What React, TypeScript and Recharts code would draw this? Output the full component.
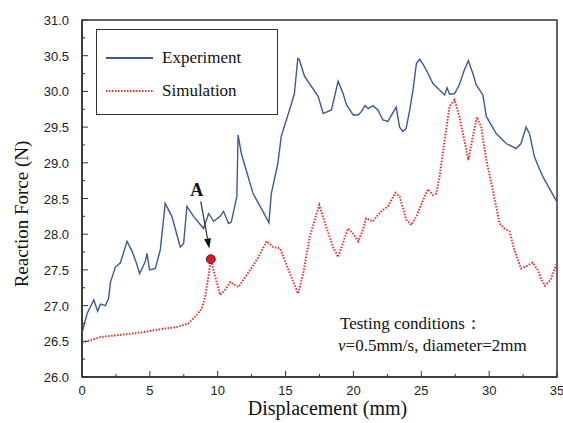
import React from "react";
import {
  LineChart, Line, XAxis, YAxis, Legend, ReferenceArea, ReferenceDot, ReferenceLine,
} from "recharts";

// Experiment curve (displacement mm, force N)
const EXP_X = [
  0, 0.38, 0.87, 1.15, 1.36, 1.72, 1.96, 2.1, 2.46, 2.83, 3.32, 3.69, 3.93, 4.25, 4.67, 4.79, 4.98, 5.4,
  5.77, 6.13, 6.62, 7.24, 7.49, 7.73, 8.22, 8.96, 9.33, 9.7, 10.18, 10.43, 10.8, 11.0, 11.41, 11.5, 11.74,
  12.6, 13.33, 13.77, 13.95, 14.43, 14.68, 15.29, 15.65, 15.9, 16.0, 16.4, 17.4, 17.77, 18.38, 18.87,
  19.24, 19.49, 19.98, 20.35, 20.6, 20.85, 21.1, 21.44, 21.8, 22.17, 22.54, 23.15, 23.4, 23.64, 23.88,
  24.15, 24.39, 24.64, 24.88, 25.1, 25.37, 25.86, 26.35, 26.72, 26.9, 27.08, 27.45, 27.8, 28.17, 28.47,
  28.8, 29.05, 29.54, 29.79, 30.52, 31.26, 31.99, 32.35, 32.72, 32.97, 33.33, 33.58, 33.95, 35,
];
const EXP_Y = [
  26.62, 26.89, 27.08, 26.92, 27.02, 27.0, 27.1, 27.33, 27.54, 27.6, 27.9, 27.76, 27.64, 27.45, 27.62, 27.73, 27.5, 27.52,
  27.78, 28.43, 28.25, 27.82, 27.87, 28.39, 28.25, 28.08, 28.29, 28.18, 28.25, 28.32, 28.15, 28.17, 28.53, 29.39, 29.13,
  28.57, 28.32, 28.16, 28.57, 28.99, 29.37, 29.74, 29.97, 30.46, 30.45, 30.21, 29.93, 29.69, 29.74, 30.14,
  29.97, 29.81, 29.67, 29.67, 29.72, 29.8, 29.76, 29.8, 29.74, 29.6, 29.58, 29.78, 29.5, 29.44, 29.48,
  29.74, 30.02, 30.39, 30.45, 30.39, 30.3, 30.11, 30.02, 29.95, 30.05, 29.96, 29.97, 30.09, 30.3, 30.43,
  30.25, 30.09, 29.95, 29.65, 29.41, 29.27, 29.2, 29.27, 29.5, 29.41, 29.09, 28.97, 28.81, 28.45,
];

// Simulation curve
const SIM_X = [
  0, 1.36, 3.32, 4.55, 5.77, 7.0, 7.84, 8.46, 8.83, 9.07, 9.31, 9.49, 9.82, 10.18, 10.55, 10.92, 11.53,
  12.39, 12.88, 13.6, 14.1, 14.6, 15.32, 15.93, 16.3, 16.79, 17.48, 18.0, 18.5, 18.87, 19.24, 19.6, 19.97,
  20.35, 20.7, 20.94, 21.43, 21.8, 22.17, 22.54, 23.1, 23.4, 23.9, 24.27, 24.64, 25.13, 25.5, 25.86, 26.1,
  26.35, 26.72, 27.08, 27.45, 27.8, 28.17, 28.47, 28.8, 29.1, 29.42, 29.79, 30.27, 30.77, 31.13, 31.5,
  31.86, 32.35, 32.72, 33.21, 33.58, 33.82, 34.1, 34.5, 35,
];
const SIM_Y = [
  26.48, 26.56, 26.6, 26.63, 26.67, 26.7, 26.75, 26.87, 26.96, 27.12, 27.4, 27.65, 27.4, 27.15, 27.22, 27.33, 27.26,
  27.5, 27.64, 27.9, 27.82, 27.8, 27.45, 27.17, 27.45, 27.97, 28.41, 28.1, 27.82, 27.68, 27.88, 28.08, 28.01,
  27.9, 28.06, 28.22, 28.18, 28.27, 28.34, 28.39, 28.58, 28.53, 28.2, 28.13, 28.25, 28.48, 28.63, 28.55, 28.57,
  28.81, 29.32, 29.79, 29.88, 29.65, 29.32, 29.04, 29.37, 29.64, 29.5, 29.04, 28.62, 28.15, 28.08, 28.04,
  27.78, 27.52, 27.55, 27.6, 27.5, 27.38, 27.28, 27.35, 27.6,
];

const X_TICKS = [0, 2.5, 5, 7.5, 10, 12.5, 15, 17.5, 20, 22.5, 25, 27.5, 30, 32.5, 35];
const Y_TICKS = [
  26, 26.25, 26.5, 26.75, 27, 27.25, 27.5, 27.75, 28, 28.25, 28.5, 28.75,
  29, 29.25, 29.5, 29.75, 30, 30.25, 30.5, 30.75, 31,
];

// point A and its arrow
const POINT_A = { x: 9.49, y: 27.65 };
const ARROW = [{ x: 8.75, y: 28.46 }, { x: 9.38, y: 27.8 }];
const LABEL_A = { x: 8.45, y: 28.63 };

const expData = EXP_X.map((x, i) => ({ x, y: EXP_Y[i] }));
const simData = SIM_X.map((x, i) => ({ x, y: SIM_Y[i] }));

const SERIF = "'Liberation Serif', 'Times New Roman', serif";
const SANS = "'Liberation Sans', Arial, sans-serif";
const BLUE = "#3b5b98";
const RED = "#e8322c";

function XTick({ x, y, payload }: any) {
  const major = payload.value % 5 === 0;
  return (
    <g>
      <line x1={x} x2={x} y1={y} y2={y - (major ? 6 : 3)} stroke="#333" strokeWidth={1} />
      {major && (
        <text x={x} y={y + 18} textAnchor="middle" fontSize={13} fontFamily={SANS} fill="#222">
          {payload.value}
        </text>
      )}
    </g>
  );
}

function YTick({ x, y, payload }: any) {
  const v = payload.value;
  const major = Math.abs(v * 2 - Math.round(v * 2)) < 1e-6;
  return (
    <g>
      <line x1={x} x2={x + (major ? 6 : 3)} y1={y} y2={y} stroke="#333" strokeWidth={1} />
      {major && (
        <text x={x - 13} y={y + 5} textAnchor="end" fontSize={13} fontFamily={SANS} fill="#222">
          {v.toFixed(1)}
        </text>
      )}
    </g>
  );
}

function Arrow(props: any) {
  const { x1, y1, x2, y2 } = props;
  const dx = x2 - x1, dy = y2 - y1;
  const len = Math.sqrt(dx * dx + dy * dy);
  const ux = dx / len, uy = dy / len;
  const hl = 10, hw = 3.5;
  const bx = x2 - ux * hl, by = y2 - uy * hl;
  return (
    <g>
      <line x1={x1} y1={y1} x2={bx} y2={by} stroke="#333" strokeWidth={1.2} />
      <polygon
        points={`${x2},${y2} ${bx - uy * hw},${by + ux * hw} ${bx + uy * hw},${by - ux * hw}`}
        fill="#111"
      />
    </g>
  );
}

function LegendBox() {
  const row = { display: "flex", alignItems: "center", height: 33 } as const;
  return (
    <div
      style={{
        border: "1.5px solid #333", width: 182, height: 86, boxSizing: "border-box",
        padding: "11px 0 0 9px", fontFamily: SERIF, fontSize: 17, color: "#111", background: "#fff",
      }}
    >
      <div style={row}>
        <svg width={47} height={4} style={{ marginRight: 9 }}>
          <line x1={0} x2={47} y1={2} y2={2} stroke={BLUE} strokeWidth={2} />
        </svg>
        Experiment
      </div>
      <div style={row}>
        <svg width={47} height={4} style={{ marginRight: 9 }}>
          <line x1={0} x2={47} y1={2} y2={2} stroke={RED} strokeWidth={2} strokeDasharray="1.5 1.5" />
        </svg>
        Simulation
      </div>
    </div>
  );
}

export default function App() {
  return (
    <div style={{ position: "absolute", left: 0, top: 0, width: 563, height: 423, background: "#fff" }}>
      <LineChart width={563} height={423} margin={{ top: 20, right: 6, bottom: 0, left: 0 }}>
        <XAxis
          dataKey="x"
          type="number"
          domain={[0, 35]}
          ticks={X_TICKS}
          interval={0}
          tickSize={0}
          tickMargin={0}
          tick={<XTick />}
          height={46}
          axisLine={{ stroke: "#333", strokeWidth: 1.5 }}
          allowDuplicatedCategory={false}
        />
        <YAxis
          dataKey="y"
          type="number"
          domain={[26, 31]}
          ticks={Y_TICKS}
          interval={0}
          tickSize={0}
          tickMargin={0}
          tick={<YTick />}
          width={82}
          axisLine={{ stroke: "#333", strokeWidth: 1.5 }}
        />
        <ReferenceArea x1={0} x2={35} y1={26} y2={31} fill="none" stroke="#333" strokeWidth={1.5} />
        <Legend
          layout="horizontal"
          verticalAlign="middle"
          align="center"
          content={<LegendBox />}
          wrapperStyle={{ left: 96, top: 29, width: 182, height: 86 }}
        />
        <Line
          data={expData}
          dataKey="y"
          name="Experiment"
          type="linear"
          stroke={BLUE}
          strokeWidth={1.4}
          dot={false}
          isAnimationActive={false}
        />
        <Line
          data={simData}
          dataKey="y"
          name="Simulation"
          type="linear"
          stroke={RED}
          strokeWidth={2}
          strokeDasharray="1.5 1.5"
          dot={false}
          isAnimationActive={false}
        />
        <ReferenceLine segment={ARROW} shape={<Arrow />} />
        <ReferenceDot x={POINT_A.x} y={POINT_A.y} r={4.5} fill="#ee1111" stroke="#3a2a6a" strokeWidth={1} />
        <ReferenceDot
          x={LABEL_A.x}
          y={LABEL_A.y}
          r={0}
          label={{ value: "A", position: "center", fontFamily: SERIF, fontSize: 18, fontWeight: "bold", fill: "#111" }}
        />
      </LineChart>
      <div
        style={{
          position: "absolute", left: 82, top: 20, width: 475, height: 357,
          pointerEvents: "none", fontFamily: SERIF, fontSize: 17, color: "#111",
        }}
      >
        <div style={{ position: "absolute", left: 258, top: 292, whiteSpace: "nowrap" }}>
          Testing conditions：
        </div>
        <div style={{ position: "absolute", left: 256, top: 316, whiteSpace: "nowrap" }}>
          <i>v</i>=0.5mm/s, diameter=2mm
        </div>
      </div>
      <div
        style={{
          position: "absolute", left: 90, width: 475, top: 397, textAlign: "center",
          fontFamily: SERIF, fontSize: 20, color: "#111",
        }}
      >
        Displacement (mm)
      </div>
      <div
        style={{
          position: "absolute", left: 22, top: 214, transform: "translate(-50%, -50%) rotate(-90deg)",
          whiteSpace: "nowrap", fontFamily: SERIF, fontSize: 19, color: "#111",
        }}
      >
        Reaction Force (N)
      </div>
    </div>
  );
}
